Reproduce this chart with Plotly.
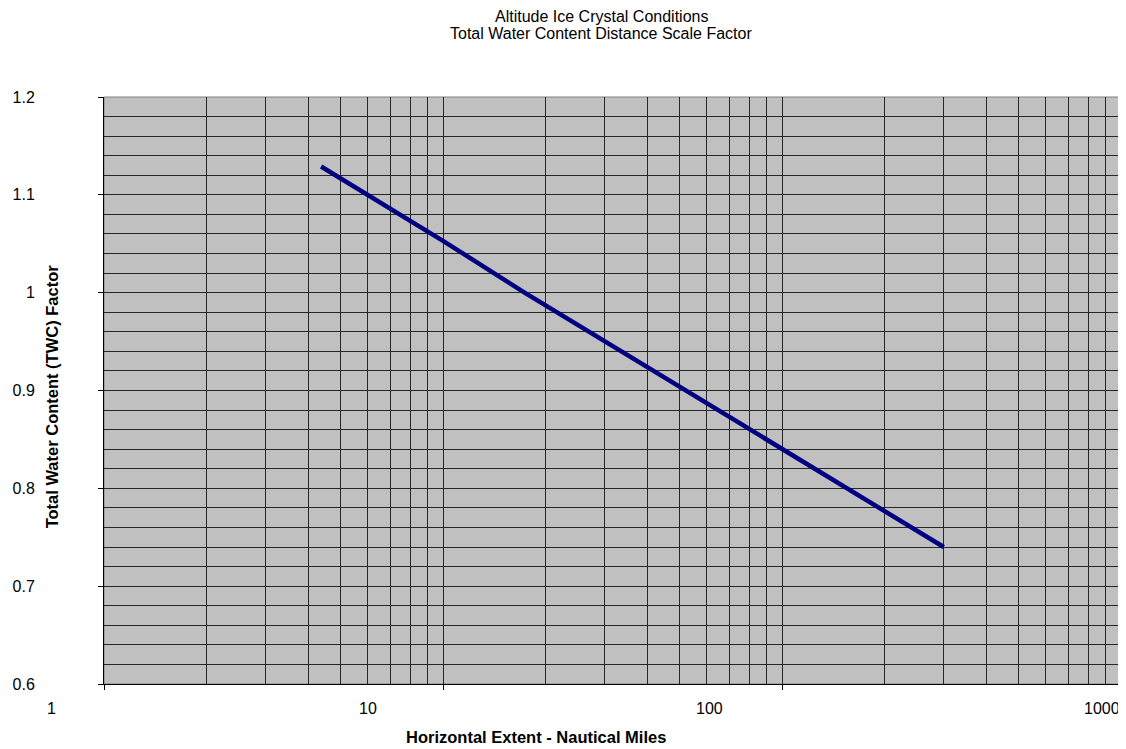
import math
import plotly.graph_objects as go

# Data
extent_nm = [4.37, 10, 17.4, 100, 300]
twc_factor = [1.129, 1.053, 1.0, 0.841, 0.740]

x_major = [1, 10, 100, 1000]
x_major_text = ["1", "10", "100", "1000"]
x_label_shift = [-53, -75, -73, -19]
x_minor = [m * d for d in (1, 10, 100) for m in range(2, 10)]

title_lines = ["Altitude Ice Crystal Conditions", "Total Water Content Distance Scale Factor"]
x_title = "Horizontal Extent - Nautical Miles"
y_title = "Total Water Content (TWC) Factor"

FONT = "Liberation Sans, Arial, sans-serif"
GRID = "#262626"

fig = go.Figure()
fig.add_trace(go.Scatter(
    x=extent_nm, y=twc_factor, mode="lines",
    line=dict(color="#000080", width=4.5), showlegend=False,
))

# page body has an 8px default margin; compensate so the plot area sits where the reference's does
fig.update_layout(
    width=1118, height=741,
    margin=dict(l=93, r=5, t=89, b=65),
    paper_bgcolor="white", plot_bgcolor="#C0C0C0",
    font=dict(family=FONT, size=16, color="black"),
    showlegend=False,
)

fig.update_xaxes(
    type="log", range=[0, 3],
    tickmode="array", tickvals=x_major, showticklabels=False,
    ticks="outside", ticklen=5, tickcolor="black",
    showgrid=True, gridcolor=GRID, gridwidth=1,
    showline=True, linecolor="black", linewidth=1,
    zeroline=False,
    minor=dict(tickmode="array", tickvals=x_minor, showgrid=True,
               gridcolor=GRID, gridwidth=1, ticks=""),
)
fig.update_yaxes(
    range=[0.6, 1.2], tickmode="linear", tick0=0.6, dtick=0.1,
    ticks="outside", ticklen=5, tickcolor="black",
    ticklabelstandoff=60,
    tickformat="~g", tickfont=dict(size=16),
    showgrid=True, gridcolor=GRID, gridwidth=1,
    showline=True, linecolor="black", linewidth=1,
    zeroline=False,
    minor=dict(dtick=0.02, showgrid=True, gridcolor=GRID, gridwidth=1, ticks=""),
)

# plot-area border (top/right)
fig.add_shape(type="rect", xref="paper", yref="paper", x0=0, y0=0, x1=1, y1=1,
              line=dict(color="#808080", width=1), layer="below")

# x tick labels (annotation x on a log axis is given in log10 units)
for v, t, s in zip(x_major, x_major_text, x_label_shift):
    fig.add_annotation(x=math.log10(v), xref="x", y=0, yref="paper", text=t, showarrow=False,
                       xanchor="center", yanchor="middle", xshift=s, yshift=-24,
                       font=dict(size=16))

# axis titles
fig.add_annotation(x=0, xref="paper", y=0, yref="paper", text="<b>" + x_title + "</b>",
                   showarrow=False, xanchor="center", yanchor="middle",
                   xshift=533 - 101, yshift=-53, font=dict(size=16.5))
fig.add_annotation(x=0, xref="paper", y=0.49, yref="paper", text="<b>" + y_title + "</b>",
                   showarrow=False, textangle=-90, xanchor="center", yanchor="middle",
                   xshift=-52, font=dict(size=16.5))

# chart title, two lines
for line_text, dy in zip(title_lines, [81, 64]):
    fig.add_annotation(x=0, xref="paper", y=1, yref="paper", text=line_text,
                       showarrow=False, xanchor="center", yanchor="middle",
                       xshift=598 - 101, yshift=dy, borderpad=0, font=dict(size=16))

fig.write_html("out.html")
